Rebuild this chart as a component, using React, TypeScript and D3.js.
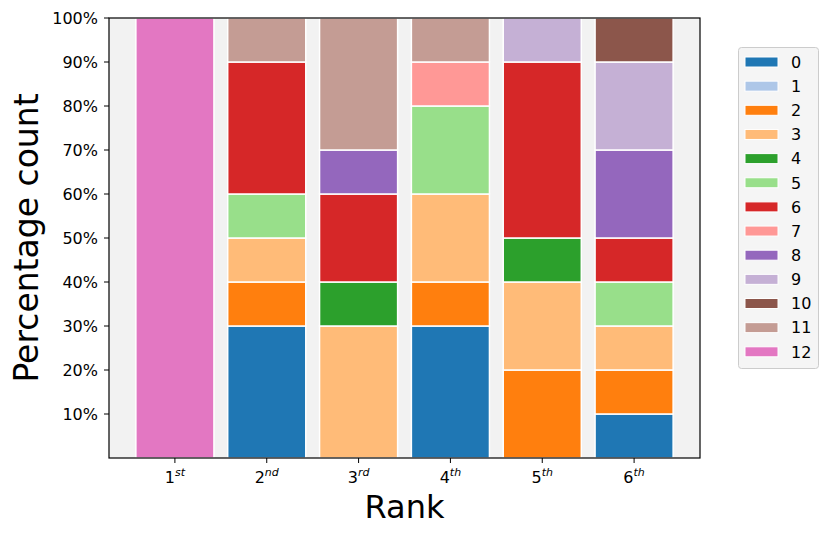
import React from "react";
import * as d3 from "d3";

const ranks = ["1", "2", "3", "4", "5", "6"];
const rankSuffix = ["st", "nd", "rd", "th", "th", "th"];
const categories = ["0", "1", "2", "3", "4", "5", "6", "7", "8", "9", "10", "11", "12"];
const colors = [
  "#1f77b4", "#aec7e8", "#ff7f0e", "#ffbb78", "#2ca02c", "#98df8a", "#d62728",
  "#ff9896", "#9467bd", "#c5b0d5", "#8c564b", "#c49c94", "#e377c2",
];
// percentage of each category (rows) for each rank (columns)
const cat0 = [0, 30, 0, 30, 0, 10];
const cat1 = [0, 0, 0, 0, 0, 0];
const cat2 = [0, 10, 0, 10, 20, 10];
const cat3 = [0, 10, 30, 20, 20, 10];
const cat4 = [0, 0, 10, 0, 10, 0];
const cat5 = [0, 10, 0, 20, 0, 10];
const cat6 = [0, 30, 20, 0, 40, 10];
const cat7 = [0, 0, 0, 10, 0, 0];
const cat8 = [0, 0, 10, 0, 0, 20];
const cat9 = [0, 0, 0, 0, 10, 20];
const cat10 = [0, 0, 0, 0, 0, 10];
const cat11 = [0, 10, 30, 10, 0, 0];
const cat12 = [100, 0, 0, 0, 0, 0];
const series = [cat0, cat1, cat2, cat3, cat4, cat5, cat6, cat7, cat8, cat9, cat10, cat11, cat12];
const yTicks = [0.1, 0.2, 0.3, 0.4, 0.5, 0.6, 0.7, 0.8, 0.9, 1.0];

export default function App() {
  const W = 831, H = 539;
  const left = 109, right = 700, top = 18, bottom = 458;
  const x = d3.scaleLinear().domain([-0.7175, 5.7175]).range([left, right]);
  const y = d3.scaleLinear().domain([0, 1]).range([bottom, top]);
  const bw = x(0.85) - x(0);

  const rows = ranks.map((_, i) => {
    const o: any = {};
    categories.forEach((c, k) => (o[c] = series[k][i] / 100));
    return o;
  });
  const stacked = d3.stack().keys(categories)(rows);

  const font = "DejaVu Sans, sans-serif";
  return (
    <svg width={W} height={H} style={{ position: "absolute", left: 0, top: 0 }} fontFamily={font}>
      <rect x={0} y={0} width={W} height={H} fill="white" />
      <rect x={left} y={top} width={right - left} height={bottom - top} fill="#f2f2f2" />
      {stacked.map((layer, k) =>
        layer.map((d, i) =>
          d[1] - d[0] > 0 ? (
            <rect
              key={`${k}-${i}`}
              x={x(i) - bw / 2}
              y={y(d[1])}
              width={bw}
              height={y(d[0]) - y(d[1])}
              fill={colors[k]}
              stroke="white"
              strokeWidth={1.5}
            />
          ) : null
        )
      )}
      <rect x={left} y={top} width={right - left} height={bottom - top} fill="none" stroke="black" strokeWidth={1.2} />
      {yTicks.map((t) => (
        <g key={t}>
          <line x1={left - 5} x2={left} y1={y(t)} y2={y(t)} stroke="black" strokeWidth={1} />
          <text x={left - 11} y={y(t)} dy="0.36em" textAnchor="end" fontSize={16}>
            {`${Math.round(t * 100)}%`}
          </text>
        </g>
      ))}
      {ranks.map((r, i) => (
        <g key={r}>
          <line x1={x(i)} x2={x(i)} y1={bottom} y2={bottom + 5} stroke="black" strokeWidth={1} />
          <text x={x(i)} y={bottom + 25} textAnchor="middle" fontSize={16}>
            {r}
            <tspan dy={-7} fontSize={11} fontStyle="italic">{rankSuffix[i]}</tspan>
          </text>
        </g>
      ))}
      <text x={(left + right) / 2} y={518} textAnchor="middle" fontSize={32}>Rank</text>
      <text transform={`translate(38,${(top + bottom) / 2}) rotate(-90)`} textAnchor="middle" fontSize={33}>
        Percentage count
      </text>
      <g>
        <rect x={738.5} y={47.5} width={80} height={321} rx={3} fill="#f5f5f5" stroke="#cccccc" strokeWidth={1} />
        {categories.map((c, k) => (
          <g key={c}>
            <rect x={745} y={57 + k * 24.15} width={33} height={10} fill={colors[k]} stroke="white" strokeWidth={1} />
            <text x={791} y={62 + k * 24.15} dy="0.36em" fontSize={16}>{c}</text>
          </g>
        ))}
      </g>
    </svg>
  );
}
